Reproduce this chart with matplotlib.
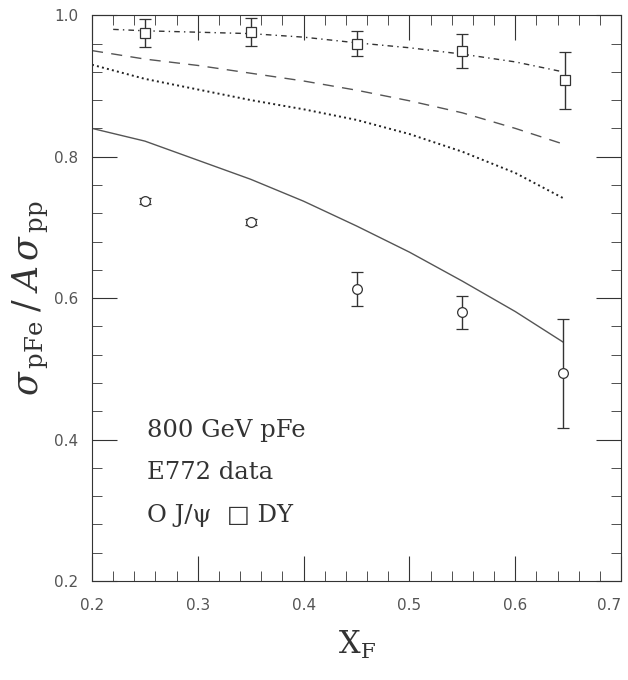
import matplotlib
matplotlib.use("Agg")
from matplotlib import pyplot as plt
from matplotlib.ticker import MultipleLocator

plt.rcParams['mathtext.fontset'] = 'dejavuserif'

# E772 data points
jpsi_x = [0.25, 0.35, 0.45, 0.55, 0.645]
jpsi_y = [0.737, 0.708, 0.613, 0.580, 0.494]
jpsi_err = [0.004, 0.004, 0.024, 0.023, 0.077]

dy_x = [0.25, 0.35, 0.45, 0.55, 0.647]
dy_y = [0.975, 0.976, 0.960, 0.950, 0.908]
dy_err = [0.020, 0.020, 0.018, 0.024, 0.040]

# model curves
solid_x = [0.20, 0.25, 0.30, 0.35, 0.40, 0.45, 0.50, 0.55, 0.60, 0.645]
solid_y = [0.840, 0.822, 0.795, 0.768, 0.737, 0.702, 0.665, 0.624, 0.581, 0.538]

dotted_x = [0.20, 0.25, 0.30, 0.35, 0.40, 0.45, 0.50, 0.55, 0.60, 0.647]
dotted_y = [0.930, 0.910, 0.895, 0.880, 0.867, 0.852, 0.832, 0.807, 0.777, 0.740]

dashed_x = [0.20, 0.25, 0.30, 0.35, 0.40, 0.45, 0.50, 0.55, 0.60, 0.645]
dashed_y = [0.950, 0.938, 0.929, 0.918, 0.907, 0.894, 0.879, 0.862, 0.840, 0.818]

dashdot_x = [0.22, 0.25, 0.30, 0.35, 0.40, 0.45, 0.50, 0.55, 0.60, 0.645]
dashdot_y = [0.980, 0.978, 0.976, 0.974, 0.969, 0.961, 0.954, 0.945, 0.934, 0.920]

xticks = [0.2, 0.3, 0.4, 0.5, 0.6, 0.7]
yticks = [0.2, 0.4, 0.6, 0.8, 1.0]

fig = plt.figure(figsize=(6.28, 6.80), dpi=100)
ax = fig.add_axes([0.1465, 0.1456, 0.8425, 0.832])

lc = '#555555'
ax.plot(solid_x, solid_y, '-', color=lc, lw=1.0)
ax.plot(dotted_x, dotted_y, ':', color='#222222', lw=1.4)
ax.plot(dashed_x, dashed_y, color=lc, lw=1.0, dashes=(8, 6))
ax.plot(dashdot_x, dashdot_y, color='#333333', lw=1.0, dashes=(4, 3, 1, 3))

ax.errorbar(jpsi_x, jpsi_y, yerr=jpsi_err, fmt='o', mfc='white', mec='#333333',
            ecolor='#333333', ms=7, elinewidth=1, capsize=4, mew=0.9)
ax.errorbar(dy_x, dy_y, yerr=dy_err, fmt='s', mfc='white', mec='#333333',
            ecolor='#333333', ms=7, elinewidth=1, capsize=4, mew=0.9)

ax.set_xlim(0.2, 0.7)
ax.set_ylim(0.2, 1.0)
ax.set_xticks(xticks)
ax.set_xticklabels(['%.1f' % v for v in xticks])
ax.set_yticks(yticks)
ax.set_yticklabels(['%.1f' % v for v in yticks])
ax.xaxis.set_minor_locator(MultipleLocator(0.02))
ax.yaxis.set_minor_locator(MultipleLocator(0.04))
ax.tick_params(which='both', direction='in', top=True, right=True, colors='#333333',
               labelcolor='#555555', labelsize=11)
ax.tick_params(which='major', length=18)
ax.tick_params(axis='x', which='major', pad=12)
ax.tick_params(axis='y', which='major', pad=10)
ax.tick_params(which='minor', length=7)
ax.get_xticklabels()[-1].set_horizontalalignment('right')
for s in ax.spines.values():
    s.set_color('#333333')

ax.set_xlabel(r'X$_\mathrm{F}$', family='DejaVu Serif', fontsize=22,
              color='#333333', labelpad=12)
ax.set_ylabel(r'$\sigma_{\,\mathrm{pFe}}\;/\;A\,\sigma_{\,\mathrm{pp}}$', fontsize=25,
              color='#333333', labelpad=2)

tf = dict(family=['DejaVu Serif', 'DejaVu Sans'], fontsize=17.5, color='#333333',
          va='center')
ax.text(0.252, 0.413, '800 GeV pFe', **tf)
ax.text(0.252, 0.353, 'E772 data', **tf)
ax.text(0.252, 0.293, 'O J/\u03c8  \u25a1 DY', **tf)

fig.savefig('out.png', dpi=100)
